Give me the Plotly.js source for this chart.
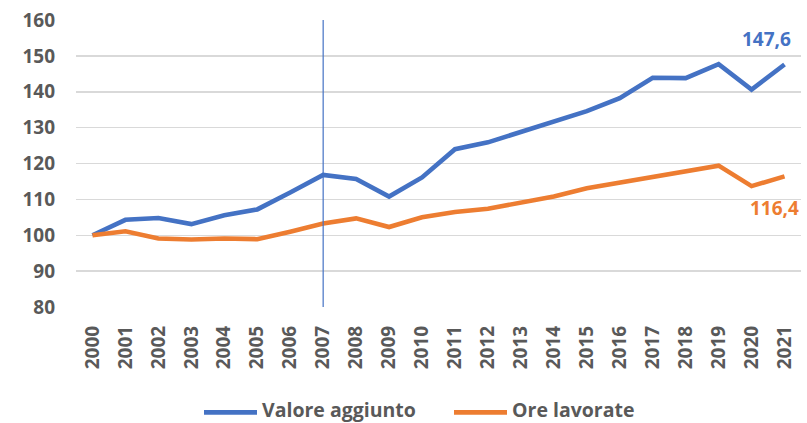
<!DOCTYPE html>
<html>
<head>
<meta charset="utf-8">
<script src="https://cdn.plot.ly/plotly-3.0.1.min.js"></script>
<style>html,body{margin:0;padding:0;background:#fff;}#chart{width:807px;height:423px;}</style>
</head>
<body>
<div id="chart"></div>
<script>
const years = ["2000","2001","2002","2003","2004","2005","2006","2007","2008","2009","2010","2011","2012","2013","2014","2015","2016","2017","2018","2019","2020","2021"];
const valoreAggiunto = [100, 104.3, 104.8, 103.1, 105.6, 107.2, 111.9, 116.8, 115.7, 110.8, 116.1, 124.0, 125.9, 128.8, 131.6, 134.6, 138.2, 143.9, 143.8, 147.7, 140.6, 147.6];
const oreLavorate = [100, 101.1, 99.1, 98.8, 99.1, 98.9, 101.0, 103.3, 104.7, 102.3, 105.0, 106.5, 107.4, 109.0, 110.8, 113.1, 114.7, 116.1, 118.0, 119.4, 113.7, 116.4];
const seriesNames = ["Valore aggiunto", "Ore lavorate"];
const markerYear = "2007";
const lastLabels = ["147,6", "116,4"];
const yTicks = [80, 90, 100, 110, 120, 130, 140, 150, 160];

const BLUE = "#4472C4", ORANGE = "#ED7D31", GREY = "#595959";
const FONT = "'Open Sans', Lato, sans-serif";
const b = s => "<b>" + s + "</b>";

const xNum = years.map(Number);
const traces = [
  {x: xNum, y: valoreAggiunto, name: seriesNames[0], type: "scatter", mode: "lines",
   line: {color: BLUE, width: 4.6}, showlegend: false},
  {x: xNum, y: oreLavorate, name: seriesNames[1], type: "scatter", mode: "lines",
   line: {color: ORANGE, width: 4.6}, showlegend: false}
];

const last = years.length - 1;
const mk = Number(markerYear);
const LEG_Y = -0.357;
const layout = {
  width: 807, height: 423,
  margin: {l: 76, r: 6, t: 20, b: 116},
  paper_bgcolor: "#fff", plot_bgcolor: "#fff",
  showlegend: false,
  font: {family: FONT, color: GREY, size: 19},
  xaxis: {
    type: "linear", range: [xNum[0] - 0.5, xNum[last] + 0.5],
    tickvals: xNum, ticktext: years.map(b),
    tickangle: -90, showgrid: false, zeroline: false, showline: false,
    ticks: "", ticklabelstandoff: 14,
    tickfont: {family: FONT, size: 19, color: GREY}
  },
  yaxis: {
    range: [80, 160], tickvals: yTicks, ticktext: yTicks.map(v => b(String(v))),
    showgrid: true, gridcolor: "#D9D9D9", gridwidth: 1.5, zeroline: false, showline: false,
    ticks: "", ticklabelstandoff: 20,
    tickfont: {family: FONT, size: 19, color: GREY}
  },
  shapes: [
    {type: "line", xref: "x", yref: "y", x0: mk, x1: mk, y0: 80, y1: 160,
     line: {color: BLUE, width: 1.2}},
    {type: "line", xref: "paper", yref: "paper", x0: (204-76)/725, x1: (257-76)/725, y0: -0.367, y1: -0.367,
     line: {color: BLUE, width: 4.6}},
    {type: "line", xref: "paper", yref: "paper", x0: (454-76)/725, x1: (507-76)/725, y0: -0.367, y1: -0.367,
     line: {color: ORANGE, width: 4.6}}
  ],
  annotations: [
    {x: xNum[last], y: valoreAggiunto[last], xref: "x", yref: "y", text: b(lastLabels[0]),
     showarrow: false, xshift: -18, yshift: 25, font: {family: FONT, size: 19, color: BLUE}},
    {x: xNum[last], y: oreLavorate[last], xref: "x", yref: "y", text: b(lastLabels[1]),
     showarrow: false, xshift: -10, yshift: -32, font: {family: FONT, size: 19, color: ORANGE}},
    {xref: "paper", yref: "paper", x: (261-76)/725, y: LEG_Y, xanchor: "left", yanchor: "middle",
     text: b(seriesNames[0]), showarrow: false, borderpad: 0, font: {family: FONT, size: 19.5, color: GREY}},
    {xref: "paper", yref: "paper", x: (511-76)/725, y: LEG_Y, xanchor: "left", yanchor: "middle",
     text: b(seriesNames[1]), showarrow: false, borderpad: 0, font: {family: FONT, size: 19.5, color: GREY}}
  ]
};

Plotly.newPlot("chart", traces, layout, {displayModeBar: false, staticPlot: true});
</script>
</body>
</html>
